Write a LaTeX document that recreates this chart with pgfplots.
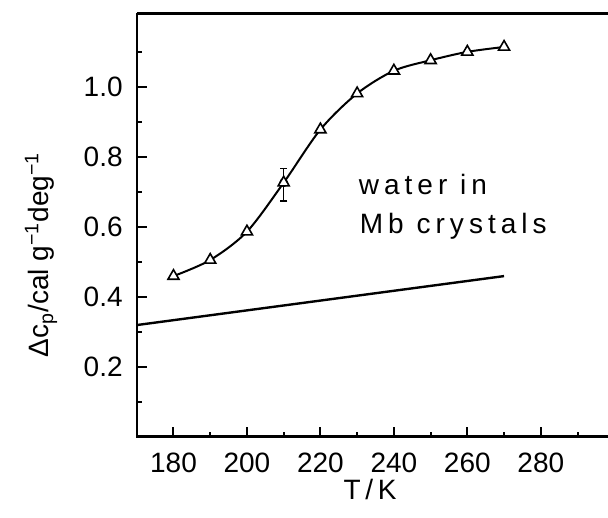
\documentclass[border=0pt]{standalone}
\usepackage{fontspec}
\setmainfont{Liberation Sans}
\newfontfamily\spaced[LetterSpace=18]{Liberation Sans}
\usepackage{pgfplots}
\pgfplotsset{compat=1.18}

\begin{document}
\fontsize{14}{17}\selectfont
\begin{tikzpicture}
\begin{axis}[
    scale only axis,
    width=235.7pt, height=211.7pt,
    xmin=170, xmax=298.3,
    ymin=0, ymax=1.21,
    clip=false,
    axis line style={draw=none},
    tick align=inside,
    xtick pos=left, ytick pos=left,
    xtick={180,200,...,280},
    minor xtick={190,210,...,290},
    ytick={0.2,0.4,0.6,0.8,1.0},
    minor ytick={0.1,0.3,0.5,0.7,0.9,1.1},
    major tick length=5pt,
    minor tick length=2.5pt,
    every tick/.style={black, line width=1pt},
    tick label style={font=\fontsize{14}{17}\selectfont},
    label style={font=\fontsize{14}{17}\selectfont},
    /pgf/number format/assume math mode=true,
    yticklabel style={/pgf/number format/.cd, fixed, fixed zerofill, precision=1, /tikz/.cd, xshift=-2.2pt},
    xticklabel style={yshift=-3.5pt},
    xlabel={T\,/\,K},
    ylabel={Δc\textsubscript{p}/cal g\textsuperscript{−1}deg\textsuperscript{−1}},
    x label style={at={(axis description cs:0.495,-0.126)}, anchor=center},
    y label style={at={(axis description cs:-0.203,0.43)}, anchor=center},
]
% error bar at 210 K
\addplot[black, only marks, mark=none,
         error bars/.cd, y dir=both, y explicit,
         error bar style={line width=0.8pt},
         error mark options={rotate=90, mark size=1.8pt, line width=0.8pt}]
    coordinates {(210, 0.726) += (0, 0.041) -= (0, 0.052)};
% measured heat capacity of water in Mb crystals
\addplot[black, line width=1pt, smooth, mark=triangle*, mark size=3.2pt,
         mark options={fill=white, solid, line width=0.8pt}] coordinates {
    (180, 0.459)
    (190, 0.505)
    (200, 0.586)
    (210, 0.726)
    (220, 0.878)
    (230, 0.981)
    (240, 1.046)
    (250, 1.076)
    (260, 1.100)
    (270, 1.114)
};
% ice reference line
\addplot[black, line width=1.2pt] coordinates {(170, 0.319) (270, 0.459)};

\node[anchor=base west, font=\fontsize{14}{17}\spaced] at (axis cs:227.8,0.691) {water in};
\node[anchor=base west, font=\fontsize{14}{17}\spaced] at (axis cs:228.1,0.582) {Mb crystals};

\draw[line width=1.2pt] (rel axis cs:0,1) -- (rel axis cs:0,0) -- (rel axis cs:1,0);
\draw[line width=1.2pt] (rel axis cs:0,1) -- (rel axis cs:1,1);
\end{axis}
\pgfresetboundingbox
\useasboundingbox (-68.4pt,-40.2pt) rectangle (235.7pt,218.4pt);
\end{tikzpicture}
\end{document}
